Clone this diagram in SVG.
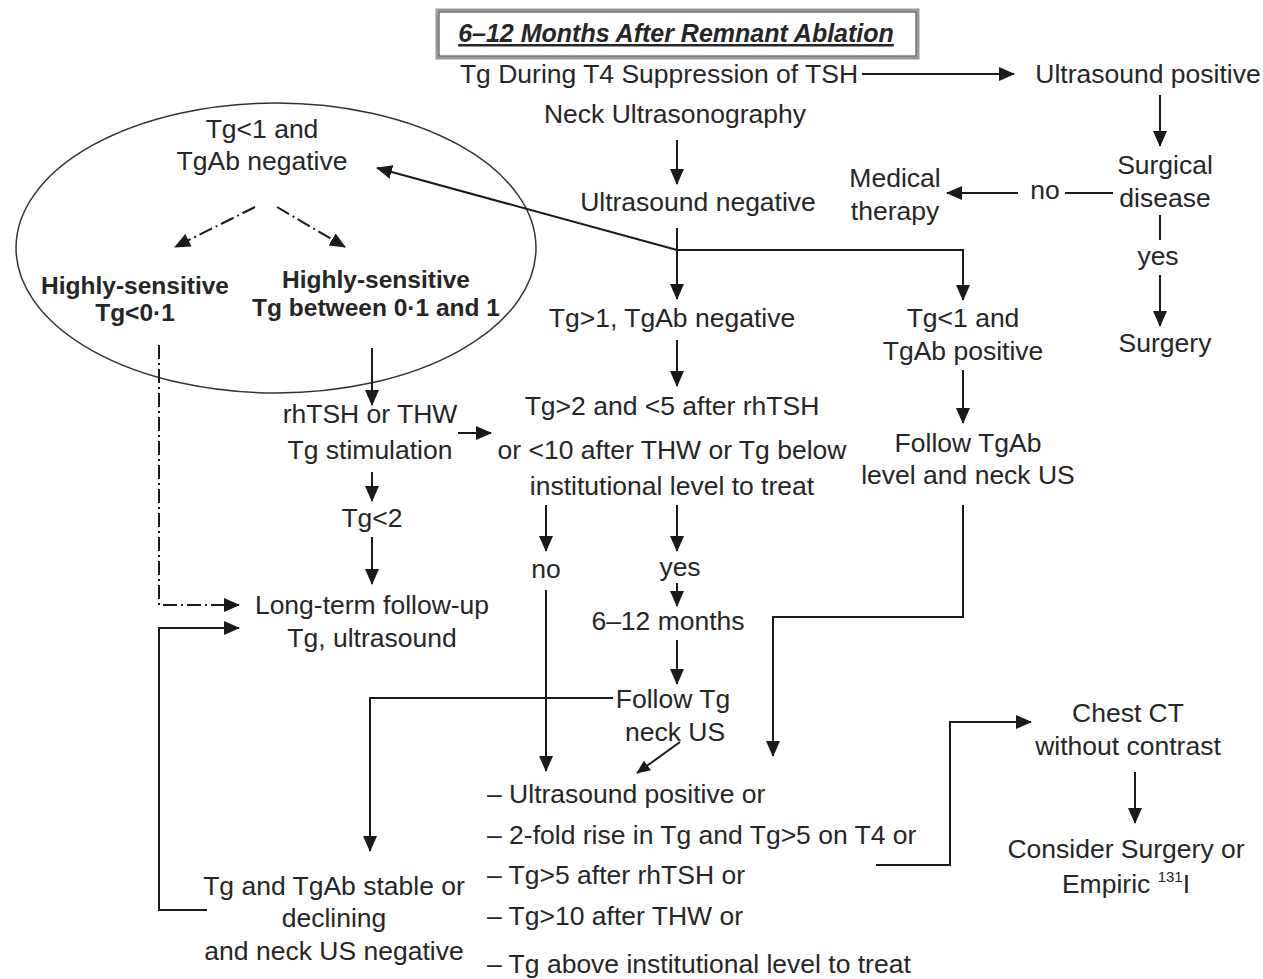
<svg xmlns="http://www.w3.org/2000/svg" width="1263" height="979" viewBox="0 0 1263 979">
<defs>
<marker id="ah" markerWidth="16" markerHeight="14" refX="15" refY="7" orient="auto" markerUnits="userSpaceOnUse">
<path d="M0,0 L16,7 L0,14 Z" fill="#1a1a1a"/>
</marker>
<marker id="ahs" markerWidth="14" markerHeight="12" refX="13" refY="6" orient="auto" markerUnits="userSpaceOnUse">
<path d="M0,0 L14,6 L0,12 Z" fill="#1a1a1a"/>
</marker>
</defs>
<style>
text{font-family:"Liberation Sans",Arial,sans-serif;font-size:26.5px;fill:#262626;text-anchor:middle}
.b{font-weight:bold;font-size:24.5px}
.l{text-anchor:start}
.t{font-weight:bold;font-style:italic;font-size:25px;text-decoration:underline}
.c line,.c path,.c polyline{stroke:#1a1a1a;stroke-width:2;fill:none}
.a{marker-end:url(#ah)}
.as{marker-end:url(#ahs)}
.d{stroke-dasharray:14 4 2 4}
</style>
<rect width="1263" height="979" fill="#fff"/>

<g id="title">
<rect x="437" y="10" width="481" height="48" fill="none" stroke="#999" stroke-width="3"/>
<rect x="439" y="12" width="477" height="44" fill="none" stroke="#333" stroke-width="1"/>
<text class="t" x="676" y="42">6–12 Months After Remnant Ablation</text>
</g>

<g id="n_tg_t4"><text x="659" y="83">Tg During T4 Suppression of TSH</text></g>
<g id="n_us_pos"><text x="1148" y="83">Ultrasound positive</text></g>
<g id="n_neck"><text x="675" y="123">Neck Ultrasonography</text></g>
<g id="n_us_neg"><text x="698" y="211">Ultrasound negative</text></g>
<g id="n_surgical"><text x="1165" y="174">Surgical</text><text x="1165" y="207">disease</text></g>
<g id="n_medical"><text x="895" y="187">Medical</text><text x="895" y="220">therapy</text></g>
<g id="n_no1"><text x="1045" y="199">no</text></g>
<g id="n_yes1"><text x="1158" y="265">yes</text></g>
<g id="n_surgery"><text x="1165" y="352">Surgery</text></g>

<g id="n_ellipse">
<ellipse cx="276" cy="248" rx="260" ry="145" fill="none" stroke="#333" stroke-width="1.5"/>
<text x="262" y="138">Tg&lt;1 and</text>
<text x="262" y="170">TgAb negative</text>
</g>
<g id="n_hs1"><text class="b" x="135" y="294">Highly-sensitive</text><text class="b" x="135" y="321">Tg&lt;0·1</text></g>
<g id="n_hs2"><text class="b" x="376" y="288">Highly-sensitive</text><text class="b" x="376" y="316">Tg between 0·1 and 1</text></g>

<g id="n_tg1neg"><text x="672" y="327">Tg&gt;1, TgAb negative</text></g>
<g id="n_tg1pos"><text x="963" y="327">Tg&lt;1 and</text><text x="963" y="360">TgAb positive</text></g>
<g id="n_followtgab"><text x="968" y="452">Follow TgAb</text><text x="968" y="484">level and neck US</text></g>

<g id="n_rhtsh"><text x="370" y="423">rhTSH or THW</text><text x="370" y="459">Tg stimulation</text></g>
<g id="n_tg2"><text x="372" y="527">Tg&lt;2</text></g>
<g id="n_longterm"><text x="372" y="614">Long-term follow-up</text><text x="372" y="647">Tg, ultrasound</text></g>

<g id="n_tg25"><text x="672" y="415">Tg&gt;2 and &lt;5 after rhTSH</text><text x="672" y="459">or &lt;10 after THW or Tg below</text><text x="672" y="495">institutional level to treat</text></g>
<g id="n_no2"><text x="546" y="578">no</text></g>
<g id="n_yes2"><text x="680" y="576">yes</text></g>
<g id="n_612"><text x="668" y="630">6–12 months</text></g>
<g id="n_followtg"><text x="673" y="708">Follow Tg</text><text x="675" y="741">neck US</text></g>

<g id="n_list">
<text class="l" x="487" y="803">– Ultrasound positive or</text>
<text class="l" x="487" y="844">– 2-fold rise in Tg and Tg&gt;5 on T4 or</text>
<text class="l" x="487" y="884">– Tg&gt;5 after rhTSH or</text>
<text class="l" x="487" y="925">– Tg&gt;10 after THW or</text>
<text class="l" x="487" y="973">– Tg above institutional level to treat</text>
</g>
<g id="n_stable"><text x="334" y="895">Tg and TgAb stable or</text><text x="334" y="927">declining</text><text x="334" y="960">and neck US negative</text></g>
<g id="n_chest"><text x="1128" y="722">Chest CT</text><text x="1128" y="755">without contrast</text></g>
<g id="n_consider"><text x="1126" y="858">Consider Surgery or</text><text x="1126" y="893">Empiric <tspan font-size="15" dy="-11">131</tspan><tspan dy="11">I</tspan></text></g>

<g id="connectors" class="c">
<line class="a" x1="862" y1="74" x2="1014" y2="74"/>
<line class="a" x1="1160" y1="95" x2="1160" y2="146"/>
<line x1="1065" y1="193" x2="1113" y2="193"/>
<line class="a" x1="1018" y1="193" x2="947" y2="193"/>
<line x1="1160" y1="215" x2="1160" y2="240"/>
<line class="a" x1="1160" y1="275" x2="1160" y2="326"/>
<line class="a" x1="677" y1="140" x2="677" y2="184"/>
<line class="a" x1="677" y1="228" x2="677" y2="299"/>
<polyline class="a" points="677,250 963,250 963,300"/>
<line class="a" x1="677" y1="250" x2="377" y2="168"/>
<line class="a" x1="677" y1="340" x2="677" y2="386"/>
<line class="a" x1="963" y1="370" x2="963" y2="423"/>
<polyline class="a" points="963,505 963,617 773,617 773,756"/>
<line class="a d" x1="255" y1="207" x2="175" y2="247"/>
<line class="a d" x1="277" y1="207" x2="345" y2="247"/>
<polyline class="a d" points="159,345 159,605 239,605"/>
<polyline class="a" points="207,910 159,910 159,628 239,628"/>
<line class="a" x1="372" y1="348" x2="372" y2="405"/>
<line class="a" x1="458" y1="433" x2="491" y2="433"/>
<line class="a" x1="372" y1="472" x2="372" y2="501"/>
<line class="a" x1="372" y1="537" x2="372" y2="584"/>
<line class="a" x1="546" y1="505" x2="546" y2="551"/>
<line class="a" x1="546" y1="590" x2="546" y2="771"/>
<line class="a" x1="677" y1="505" x2="677" y2="551"/>
<line class="a" x1="677" y1="583" x2="677" y2="606"/>
<line class="a" x1="677" y1="640" x2="677" y2="684"/>
<polyline class="a" points="613,698 370,698 370,851"/>
<line class="as" x1="680" y1="742" x2="637" y2="773"/>
<polyline class="a" points="876,865 950,865 950,722 1031,722"/>
<line class="a" x1="1135" y1="772" x2="1135" y2="823"/>
</g>
</svg>
